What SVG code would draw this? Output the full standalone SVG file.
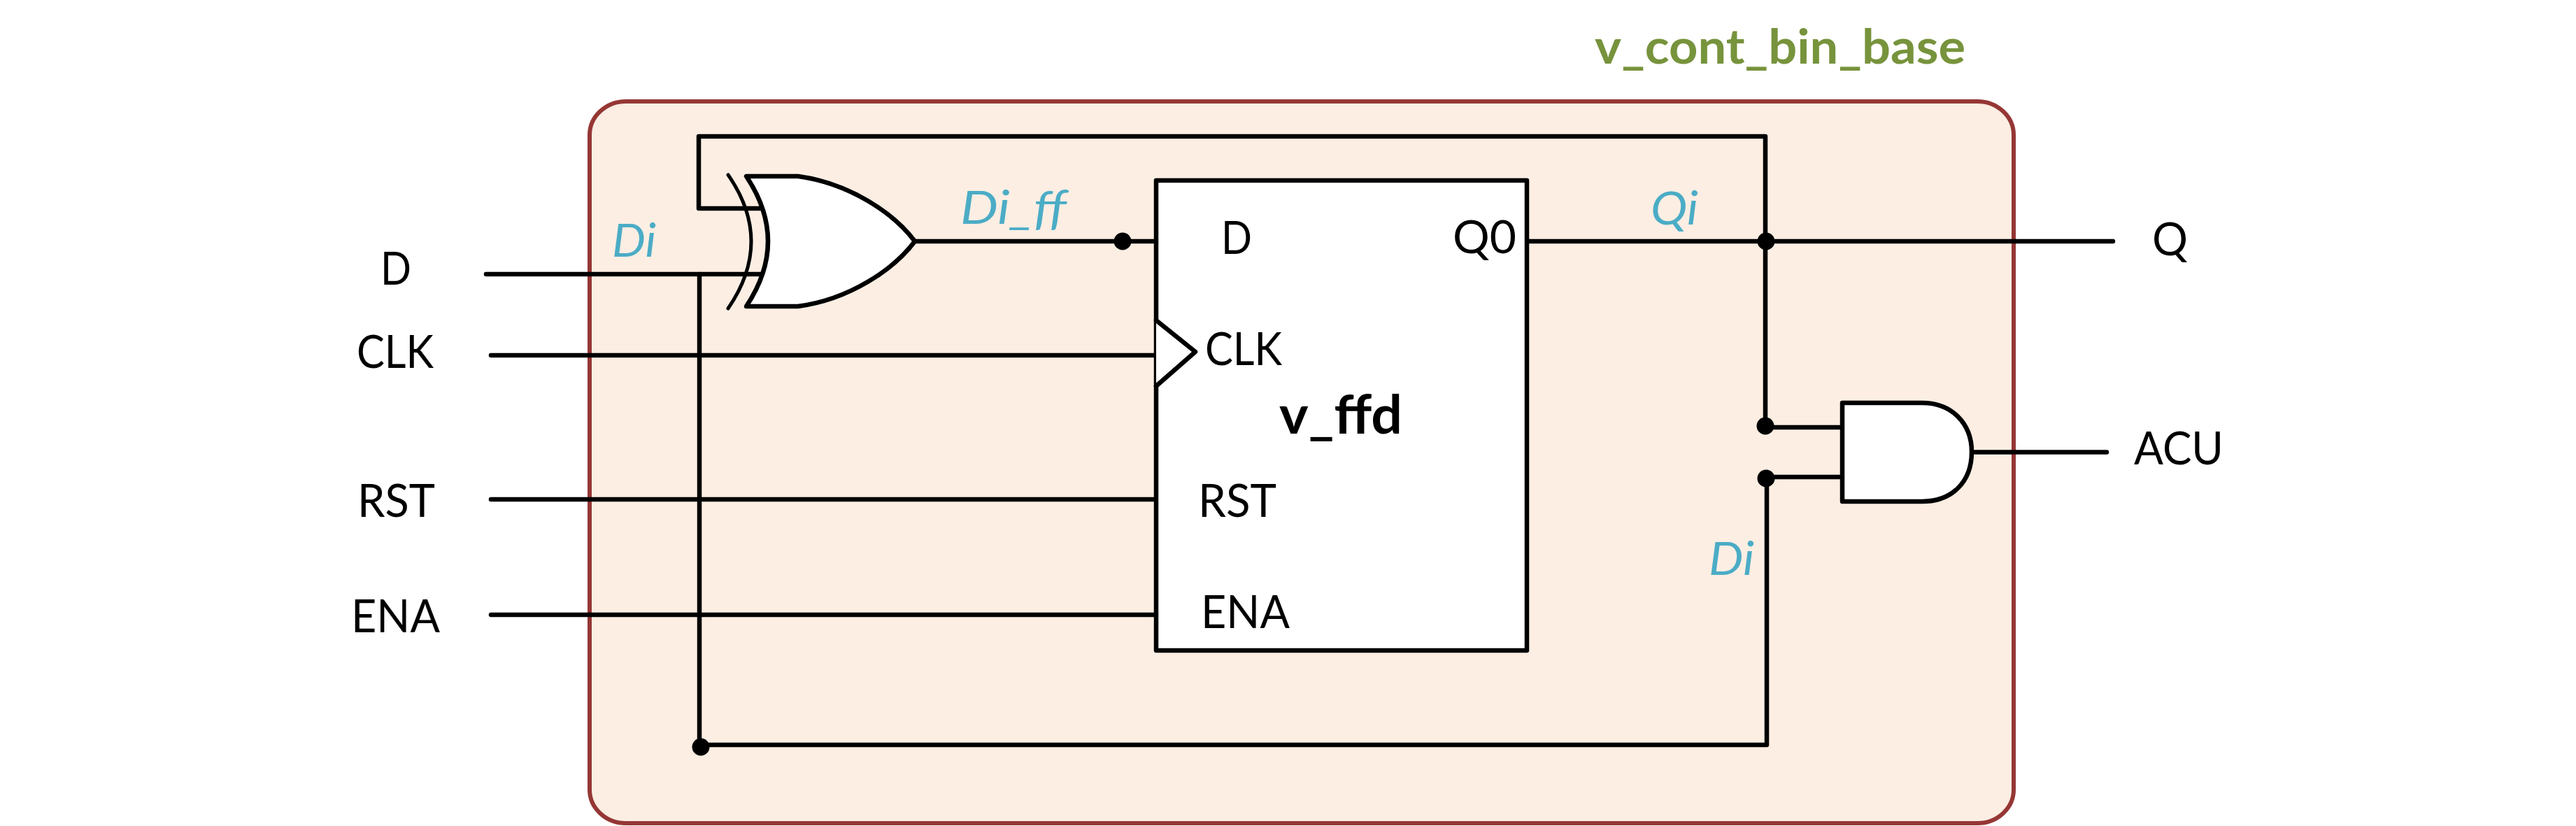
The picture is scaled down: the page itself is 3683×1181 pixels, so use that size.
<svg xmlns="http://www.w3.org/2000/svg" width="3683" height="1181" viewBox="0 0 3683 1181">
<style>
.w{fill:none;stroke:#000;stroke-width:6.500;stroke-linecap:round;stroke-linejoin:round}
.g{fill:#fff;stroke:#000;stroke-width:6.500;stroke-linejoin:round;stroke-linecap:round}
.t{font-family:"Lato","Open Sans","Liberation Sans",sans-serif;font-size:65px;fill:#000}
.s{font-family:"Lato","Open Sans","Liberation Sans",sans-serif;font-size:65px;font-style:italic;fill:#4BACC6}
.b{font-family:"Lato","Open Sans","Liberation Sans",sans-serif;font-weight:700}
.d{fill:#000;stroke:none}
</style>
<g id="container">
<rect x="843" y="145" width="2036" height="1032" rx="52" ry="48" fill="#FCEEE3" stroke="#953735" stroke-width="6"/>
<text class="b" x="2280" y="91" fill="#77933C" font-size="69" textLength="530" lengthAdjust="spacingAndGlyphs">v_cont_bin_base</text>
</g>
<g id="connectors">
<path class="w" d="M1090 298H999V195H2524V609"/>
<path class="w" d="M695 392H1092"/>
<path class="w" d="M1000 392V1068"/>
<path class="w" d="M1002 1065H2526V684"/>
<path class="w" d="M702 508H1653"/>
<path class="w" d="M702 714H1653"/>
<path class="w" d="M702 879H1653"/>
<path class="w" d="M1308 345H1653"/>
<path class="w" d="M2183 345H3021"/>
<path class="w" d="M2524 611H2634"/>
<path class="w" d="M2526 682H2634"/>
<path class="w" d="M2819 646.500H3012"/>
<circle class="d" cx="1605" cy="345" r="12.500"/>
<circle class="d" cx="2525" cy="345" r="12.500"/>
<circle class="d" cx="2524" cy="609" r="12.500"/>
<circle class="d" cx="2525" cy="684" r="12.500"/>
<circle class="d" cx="1002" cy="1068" r="12.500"/>
</g>
<g id="xor-gate">
<path class="g" d="M1067 252H1141C1215 262 1278 305 1308 345C1278 385 1215 428 1141 438H1067Q1129 345 1067 252Z"/>
<path class="w" style="stroke-width:5" d="M1041 250Q1107 345 1041 441"/>
</g>
<g id="v_ffd">
<rect class="g" x="1653" y="258" width="530" height="672"/>
<path class="g" d="M1653 458L1709 503L1653 552"/>
<text class="t" x="1746" y="363" textLength="44" lengthAdjust="spacingAndGlyphs">D</text>
<text class="t" x="1723" y="522" textLength="110" lengthAdjust="spacingAndGlyphs">CLK</text>
<text class="t" x="1713" y="739" textLength="112" lengthAdjust="spacingAndGlyphs">RST</text>
<text class="t" x="1717" y="898" textLength="127" lengthAdjust="spacingAndGlyphs">ENA</text>
<text class="t" x="2077" y="362" textLength="91" lengthAdjust="spacingAndGlyphs">Q0</text>
<text class="b" x="1829" y="620" font-size="76" textLength="176" lengthAdjust="spacingAndGlyphs" fill="#000">v_ffd</text>
</g>
<g id="and-gate">
<path class="g" d="M2634 576H2748C2790 576 2819 605 2819 646C2819 690 2790 717 2748 717H2634Z"/>
</g>
<g id="labels">
<text class="t" x="544" y="407" textLength="44" lengthAdjust="spacingAndGlyphs">D</text>
<text class="t" x="510" y="526" textLength="110" lengthAdjust="spacingAndGlyphs">CLK</text>
<text class="t" x="511" y="739" textLength="111" lengthAdjust="spacingAndGlyphs">RST</text>
<text class="t" x="502" y="904" textLength="127" lengthAdjust="spacingAndGlyphs">ENA</text>
<text class="t" x="3077" y="365" textLength="51" lengthAdjust="spacingAndGlyphs">Q</text>
<text class="t" x="3051" y="664" textLength="128" lengthAdjust="spacingAndGlyphs">ACU</text>
<text class="s" x="875" y="367" textLength="63" lengthAdjust="spacingAndGlyphs">Di</text>
<text class="s" x="1373" y="320" textLength="152" lengthAdjust="spacingAndGlyphs">Di_ff</text>
<text class="s" x="2360" y="321" textLength="68" lengthAdjust="spacingAndGlyphs">Qi</text>
<text class="s" x="2443" y="822" textLength="65" lengthAdjust="spacingAndGlyphs">Di</text>
</g>
</svg>
